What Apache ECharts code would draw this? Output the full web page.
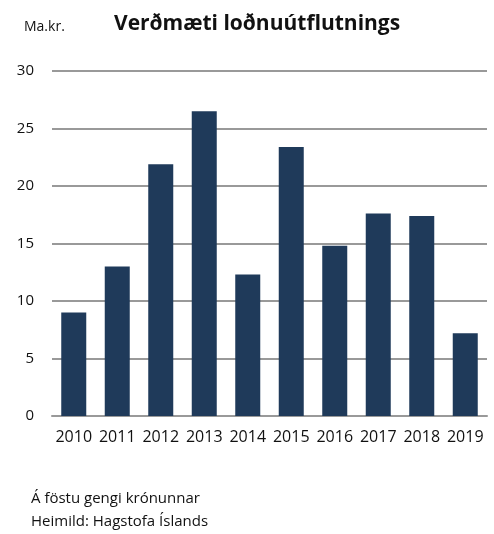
<!DOCTYPE html>
<html>
<head>
<meta charset="utf-8">
<script src="https://cdn.jsdelivr.net/npm/echarts@6/dist/echarts.min.js"></script>
<style>
html, body { margin: 0; padding: 0; background: #fff; }
#main { width: 494px; height: 534px; }
</style>
</head>
<body>
<div id="main"></div>
<script>
var years = ['2010', '2011', '2012', '2013', '2014', '2015', '2016', '2017', '2018', '2019'];
var values = [9.0, 13.0, 21.9, 26.5, 12.3, 23.4, 14.8, 17.6, 17.4, 7.2];
var footnotes = ['Á föstu gengi krónunnar', 'Heimild: Hagstofa Íslands'];

var font = 'Open Sans';
var chart = echarts.init(document.getElementById('main'));

var option = {
	animation : false,
	title : [ {
		text : 'Verðmæti loðnuútflutnings',
		left : 109,
		top : 9,
		textStyle : {
			fontFamily : font,
			fontSize : 21,
			fontWeight : 'bold',
			color : '#111'
		}
	}, {
		text : 'Ma.kr.',
		left : 19,
		top : 15,
		textStyle : {
			fontFamily : font,
			fontSize : 14,
			fontWeight : 'normal',
			color : '#111'
		}
	} ],
	graphic : [ {
		type : 'text',
		left : 31,
		top : 487,
		style : {
			text : footnotes.join('\n'),
			font : '15px "Open Sans"',
			lineHeight : 23,
			fill : '#111'
		}
	} ],
	grid : {
		left : 52,
		right : 7,
		top : 71,
		bottom : 118
	},
	xAxis : {
		type : 'category',
		data : years,
		axisLine : {
			lineStyle : {
				color : '#999',
				width : 2
			}
		},
		axisTick : {
			show : false
		},
		axisLabel : {
			interval : 0,
			margin : 13,
			fontFamily : font,
			fontSize : 16,
			color : '#111'
		}
	},
	yAxis : {
		type : 'value',
		min : 0,
		max : 30,
		interval : 5,
		axisLine : {
			show : false
		},
		axisTick : {
			show : false
		},
		splitLine : {
			lineStyle : {
				color : '#999',
				width : 2
			}
		},
		axisLabel : {
			margin : 18,
			fontFamily : font,
			fontSize : 15,
			color : '#111'
		}
	},
	series : [ {
		type : 'bar',
		data : values,
		barWidth : 25,
		itemStyle : {
			color : '#1f3a5a'
		}
	} ]
};

chart.setOption(option);
</script>
</body>
</html>
